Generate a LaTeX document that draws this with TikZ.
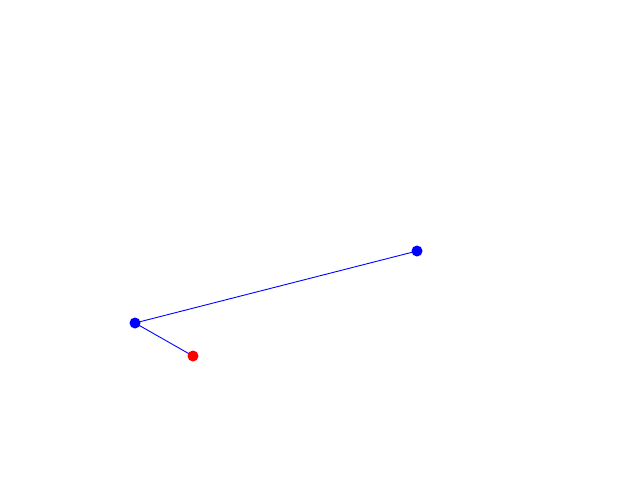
\documentclass[tikz,border=0pt]{standalone}
\usetikzlibrary{backgrounds}
\begin{document}
\begin{tikzpicture}[x=1pt,y=-1pt,
  dot/.style={circle,inner sep=0pt,minimum size=11pt},
  link/.style={blue,line width=0.9pt}]
\useasboundingbox (0,0) rectangle (640,480);
\node[dot,fill=blue] (a) at (417,251) {};
\node[dot,fill=blue] (b) at (135,323) {};
\node[dot,fill=red] (c) at (193,356) {};
\begin{scope}[on background layer]
\fill[white] (0,0) rectangle (640,480);
\draw[link] (a.center) -- (b.center) -- (c.center);
\end{scope}
\end{tikzpicture}
\end{document}
